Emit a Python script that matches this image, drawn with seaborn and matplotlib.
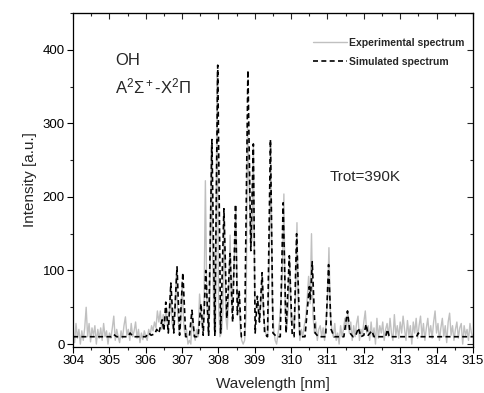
import numpy as np
import pandas as pd
import matplotlib
matplotlib.use("Agg")
import matplotlib.pyplot as plt
import seaborn as sns
from matplotlib.ticker import MultipleLocator

# Experimental spectrum on a 0.04 nm grid, 304.00 .. 315.00 nm
exp_wavelength = [round(304.0 + 0.04 * i, 2) for i in range(276)]
exp_intensity = [
    # 304.00 - 306.00
    12, 2, 28, 8, 20, 0, 18, 5, 22, 50, 10, 28, 3, 22, 12, 25, 0, 20, 8, 22, 5, 28, 10, 18, 0,
    15, 8, 22, 38, 5, 20, 10, 2, 18, 8, 25, 37, 12, 20, 5, 28, 10, 18, 30, 8, 20, 2, 15, 6, 18, 10,
    # 306.04 - 307.00
    5, 20, 12, 25, 18, 30, 22, 45, 30, 45, 20, 40, 28, 50, 25, 35, 72, 30, 20, 45, 95, 40, 15, 25, 85,
    # 307.04 - 308.00
    30, 10, 20, 0, 5, 0, 40, 15, 5, 20, 10, 68, 45, 20, 40, 222, 60, 15, 45, 270, 120, 20, 15, 370, 60,
    # 308.04 - 309.00
    10, 15, 40, 180, 40, 20, 60, 148, 50, 80, 120, 185, 60, 70, 20, 5, 0, 5, 40, 295, 220, 150, 140, 268, 60,
    # 309.04 - 310.00
    50, 60, 30, 50, 90, 40, 20, 10, 15, 120, 272, 60, 20, 5, 0, 15, 30, 60, 100, 204, 40, 20, 50, 115, 30,
    # 310.04 - 311.00
    35, 20, 60, 165, 40, 5, 20, 10, 25, 35, 60, 92, 55, 150, 40, 15, 30, 5, 20, 25, 10, 22, 5, 30, 60,
    # 311.04 - 312.00
    131, 40, 20, 10, 28, 5, 15, 0, 25, 10, 20, 35, 20, 45, 15, 30, 5, 25, 10, 28, 38, 5, 20, 12, 30,
    # 312.04 - 313.00
    45, 15, 25, 5, 30, 10, 22, 0, 35, 8, 25, 15, 30, 5, 20, 28, 10, 35, 15, 5, 40, 12, 25, 8, 30,
    # 313.04 - 314.00
    15, 38, 20, 5, 32, 12, 25, 0, 30, 15, 35, 8, 25, 38, 10, 28, 5, 22, 35, 12, 25, 8, 30, 45, 15,
    # 314.04 - 315.00
    28, 5, 22, 35, 10, 25, 2, 30, 42, 12, 25, 5, 20, 30, 8, 22, 28, 0, 25, 12, 20, 5, 28, 15, 10,
]

# Simulated spectrum (vertices)
sim_wavelength = [
    304.0, 305.05, 305.12, 305.2, 305.5, 305.57, 305.65, 306.0, 306.08, 306.15, 306.25, 306.3,
    306.36, 306.45, 306.5, 306.55, 306.62, 306.69, 306.77, 306.86, 306.93, 307.02, 307.1, 307.2,
    307.27, 307.34, 307.44, 307.52, 307.58, 307.65, 307.73, 307.82, 307.9, 307.98, 308.06, 308.15,
    308.23, 308.32, 308.39, 308.47, 308.52, 308.57, 308.63, 308.72, 308.81, 308.89, 308.96, 309.01,
    309.07, 309.13, 309.2, 309.27, 309.35, 309.43, 309.5, 309.6, 309.7, 309.78, 309.86, 309.95,
    310.03, 310.08, 310.15, 310.24, 310.38, 310.45, 310.5, 310.53, 310.58, 310.66, 310.75, 310.95,
    311.03, 311.1, 311.18, 311.45, 311.55, 311.62, 311.7, 311.78, 311.85, 311.92, 312.0, 312.06,
    312.12, 312.22, 312.28, 312.6, 312.65, 312.7, 313.45, 313.5, 313.55, 315.0,
]
sim_intensity = [
    10, 10, 13, 10, 10, 15, 10, 10, 15, 12, 14, 20,
    15, 33, 18, 57, 15, 83, 15, 105, 12, 97, 10, 10,
    46, 10, 10, 55, 12, 100, 12, 278, 12, 379, 15, 184,
    35, 123, 30, 190, 40, 73, 10, 10, 372, 127, 272, 15,
    65, 30, 97, 15, 10, 278, 15, 10, 10, 192, 15, 120,
    12, 10, 150, 10, 10, 50, 78, 60, 112, 15, 10, 10,
    108, 20, 10, 10, 45, 15, 10, 12, 22, 10, 12, 27,
    12, 18, 10, 10, 20, 10, 10, 15, 10, 10,
]

sns.set_style("ticks")
plt.rcParams["font.family"] = ["Liberation Sans", "DejaVu Sans"]
plt.rcParams["mathtext.fontset"] = "custom"
plt.rcParams["mathtext.rm"] = "Liberation Sans"
plt.rcParams["mathtext.it"] = "Liberation Sans:italic"
plt.rcParams["mathtext.bf"] = "Liberation Sans:bold"

exp_df = pd.DataFrame({"wl": exp_wavelength, "I": exp_intensity})
sim_df = pd.DataFrame({"wl": sim_wavelength, "I": sim_intensity})

fig = plt.figure(figsize=(4.84, 3.93), dpi=100)
ax = fig.add_axes([0.151, 0.117, 0.826, 0.850])

sns.lineplot(data=exp_df, x="wl", y="I", ax=ax, color="#c0c0c0", lw=1.0,
             label="Experimental spectrum", estimator=None, sort=False)
sns.lineplot(data=sim_df, x="wl", y="I", ax=ax, color="black", lw=1.2,
             label="Simulated spectrum", estimator=None, sort=False, dashes=False)
ax.lines[1].set_linestyle((0, (3, 2)))

ax.set_xlim(304, 315)
ax.set_ylim(-4, 450)
ax.xaxis.set_major_locator(MultipleLocator(1))
ax.xaxis.set_minor_locator(MultipleLocator(0.5))
ax.yaxis.set_major_locator(MultipleLocator(100))
ax.yaxis.set_minor_locator(MultipleLocator(50))
ax.tick_params(axis="both", which="major", labelsize=9.5, length=4, width=0.8, direction="out",
               colors="black", pad=2)
ax.tick_params(axis="both", which="minor", length=2.5, width=0.8, direction="out")
for s in ax.spines.values():
    s.set_linewidth(0.9)
    s.set_color("black")

# inward ticks on top and right
sec_x = ax.secondary_xaxis("top")
sec_x.xaxis.set_major_locator(MultipleLocator(1))
sec_x.xaxis.set_minor_locator(MultipleLocator(0.5))
sec_x.tick_params(which="major", direction="in", length=4, width=0.8, labeltop=False)
sec_x.tick_params(which="minor", direction="in", length=2.5, width=0.8)
sec_y = ax.secondary_yaxis("right")
sec_y.yaxis.set_major_locator(MultipleLocator(100))
sec_y.yaxis.set_minor_locator(MultipleLocator(50))
sec_y.tick_params(which="major", direction="in", length=4, width=0.8, labelright=False)
sec_y.tick_params(which="minor", direction="in", length=2.5, width=0.8)

ax.set_xlabel("Wavelength [nm]", fontsize=11, labelpad=7)
ax.set_ylabel("Intensity [a.u.]", fontsize=11, labelpad=4)

ax.text(305.15, 385, "OH", fontsize=12, va="center", ha="left")
ax.text(305.15, 350, r"A$^2\Sigma^+$-X$^2\Pi$", fontsize=12, va="center", ha="left")
ax.text(311.06, 227, "Trot=390K", fontsize=11, va="center", ha="left")

leg = ax.legend(loc="upper left", frameon=False, prop={"weight": "bold", "size": 7.5},
                handlelength=3.3, handletextpad=0.2, labelspacing=0.85,
                bbox_to_anchor=(0.6, 0.925), borderaxespad=0, borderpad=0)

fig.savefig("out.png", dpi=100)
